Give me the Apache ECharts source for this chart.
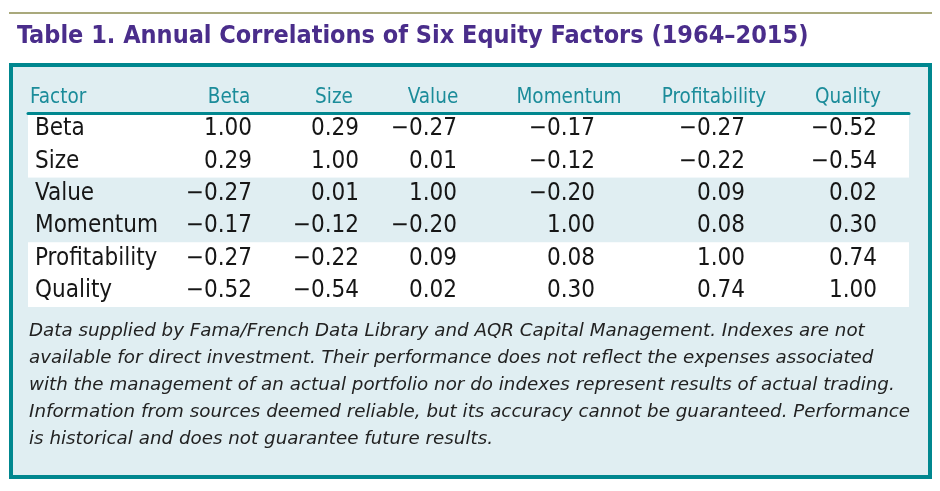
<!DOCTYPE html>
<html>
<head>
<meta charset="utf-8">
<script src="https://cdn.jsdelivr.net/npm/echarts@6/dist/echarts.min.js"></script>
<style>html,body{margin:0;padding:0;background:#fff}#c{width:940px;height:491px}</style>
</head>
<body>
<div id="c"></div>
<script>
// ---- data ----
var rowFactors = ['Beta', 'Size', 'Value', 'Momentum', 'Profitability', 'Quality'];
var headerFirst = 'Factor';
var columnHeaders = ['Beta', 'Size', 'Value', 'Momentum', 'Profitability', 'Quality'];
var betaCol = [1.00, 0.29, -0.27, -0.17, -0.27, -0.52];
var sizeCol = [0.29, 1.00, 0.01, -0.12, -0.22, -0.54];
var valueCol = [-0.27, 0.01, 1.00, -0.20, 0.09, 0.02];
var momentumCol = [-0.17, -0.12, -0.20, 1.00, 0.08, 0.30];
var profitabilityCol = [-0.27, -0.22, 0.09, 0.08, 1.00, 0.74];
var qualityCol = [-0.52, -0.54, 0.02, 0.30, 0.74, 1.00];
var titleText = 'Table 1. Annual Correlations of Six Equity Factors (1964\u20132015)';
var noteLines = [
  'Data supplied by Fama/French Data Library and AQR Capital Management. Indexes are not',
  'available for direct investment. Their performance does not reflect the expenses associated',
  'with the management of an actual portfolio nor do indexes represent results of actual trading.',
  'Information from sources deemed reliable, but its accuracy cannot be guaranteed. Performance',
  'is historical and does not guarantee future results.'
];

// ---- layout / style ----
var allCols = [betaCol, sizeCol, valueCol, momentumCol, profitabilityCol, qualityCol];
var headerCenters = [229, 334, 433, 569, 714, 848];
var numberRights = [252, 359, 457, 595, 745, 877];
var TEAL = '#00878f', HEAD = '#1b8c9a', PURPLE = '#4a2d8b', FILL = '#e0eef2', INK = '#161616';
var BODY_FONT = 'DejaVu Sans Condensed';
var tableTop = 113, tableH = 194, tableLeft = 28, tableW = 881;

function fmt(v) {
  var s = Math.abs(v).toFixed(2);
  return v < 0 ? '\u2212' + s : s;
}

var grids = [], xAxes = [], yAxes = [], series = [];

// background band grid + row labels + header rule
grids.push({ left: tableLeft, top: tableTop, width: tableW, height: tableH });
xAxes.push({ gridIndex: 0, type: 'value', min: 0, max: 1, position: 'top',
  axisLine: { show: true, lineStyle: { color: TEAL, width: 3 } },
  axisTick: { show: false }, axisLabel: { show: false }, splitLine: { show: false } });
yAxes.push({ gridIndex: 0, type: 'category', data: rowFactors, inverse: true,
  axisLine: { show: false }, axisTick: { show: false },
  axisLabel: { interval: 0, align: 'left', margin: -7, fontFamily: BODY_FONT, fontSize: 24, color: INK },
  splitLine: { show: false },
  splitArea: { show: true, interval: 0, areaStyle: { color: ['#ffffff', '#ffffff', FILL, FILL] } } });

// "Factor" header grid
grids.push({ left: tableLeft + 1, top: tableTop, width: 2, height: tableH });
xAxes.push({ gridIndex: 1, type: 'category', data: [headerFirst], position: 'top',
  axisLine: { show: false }, axisTick: { show: false },
  axisLabel: { align: 'left', margin: 5, fontFamily: BODY_FONT, fontSize: 20.5, color: HEAD } });
yAxes.push({ gridIndex: 1, type: 'category', data: rowFactors, inverse: true, show: false });

// value columns
columnHeaders.forEach(function (h, i) {
  var hw = numberRights[i] - headerCenters[i];
  var gi = grids.length;
  grids.push({ left: headerCenters[i] - hw, top: tableTop, width: hw * 2, height: tableH });
  xAxes.push({ gridIndex: gi, type: 'category', data: [h], position: 'top',
    axisLine: { show: false }, axisTick: { show: false },
    axisLabel: { margin: 5, fontFamily: BODY_FONT, fontSize: 20.5, color: HEAD } });
  yAxes.push({ gridIndex: gi, type: 'category', data: rowFactors, inverse: true, show: false });
  series.push({
    type: 'scatter', xAxisIndex: gi, yAxisIndex: gi, symbolSize: 1,
    itemStyle: { color: 'rgba(0,0,0,0)', opacity: 1 }, silent: true,
    data: allCols[i].map(function (v, j) { return [h, rowFactors[j], v]; }),
    label: { show: true, position: [hw + 0.5, 0.5], align: 'right', verticalAlign: 'middle',
      fontFamily: BODY_FONT, fontSize: 24, color: INK, textBorderWidth: 0, opacity: 1,
      formatter: function (p) { return fmt(p.value[2]); } }
  });
});

var graphics = [
  { type: 'line', z: -5, shape: { x1: 9, y1: 13, x2: 932, y2: 13 }, style: { stroke: '#8c8c50', lineWidth: 1.5 } },
  { type: 'rect', z: -10, shape: { x: 11, y: 65, width: 919, height: 412 }, style: { fill: FILL, stroke: TEAL, lineWidth: 4 } },
  { type: 'text', x: 17, y: 36, style: { text: titleText, fill: PURPLE, font: 'bold 25px "' + BODY_FONT + '"', textVerticalAlign: 'middle' } }
];
var noteY = [331, 358, 385, 412, 439];
noteLines.forEach(function (t, k) {
  graphics.push({ type: 'text', x: 29, y: noteY[k], style: { text: t, fill: '#222222', font: 'italic 18.3px "DejaVu Sans"', textVerticalAlign: 'middle' } });
});

var chart = echarts.init(document.getElementById('c'));
chart.setOption({
  animation: false,
  grid: grids, xAxis: xAxes, yAxis: yAxes, series: series,
  graphic: graphics
});
</script>
</body>
</html>
